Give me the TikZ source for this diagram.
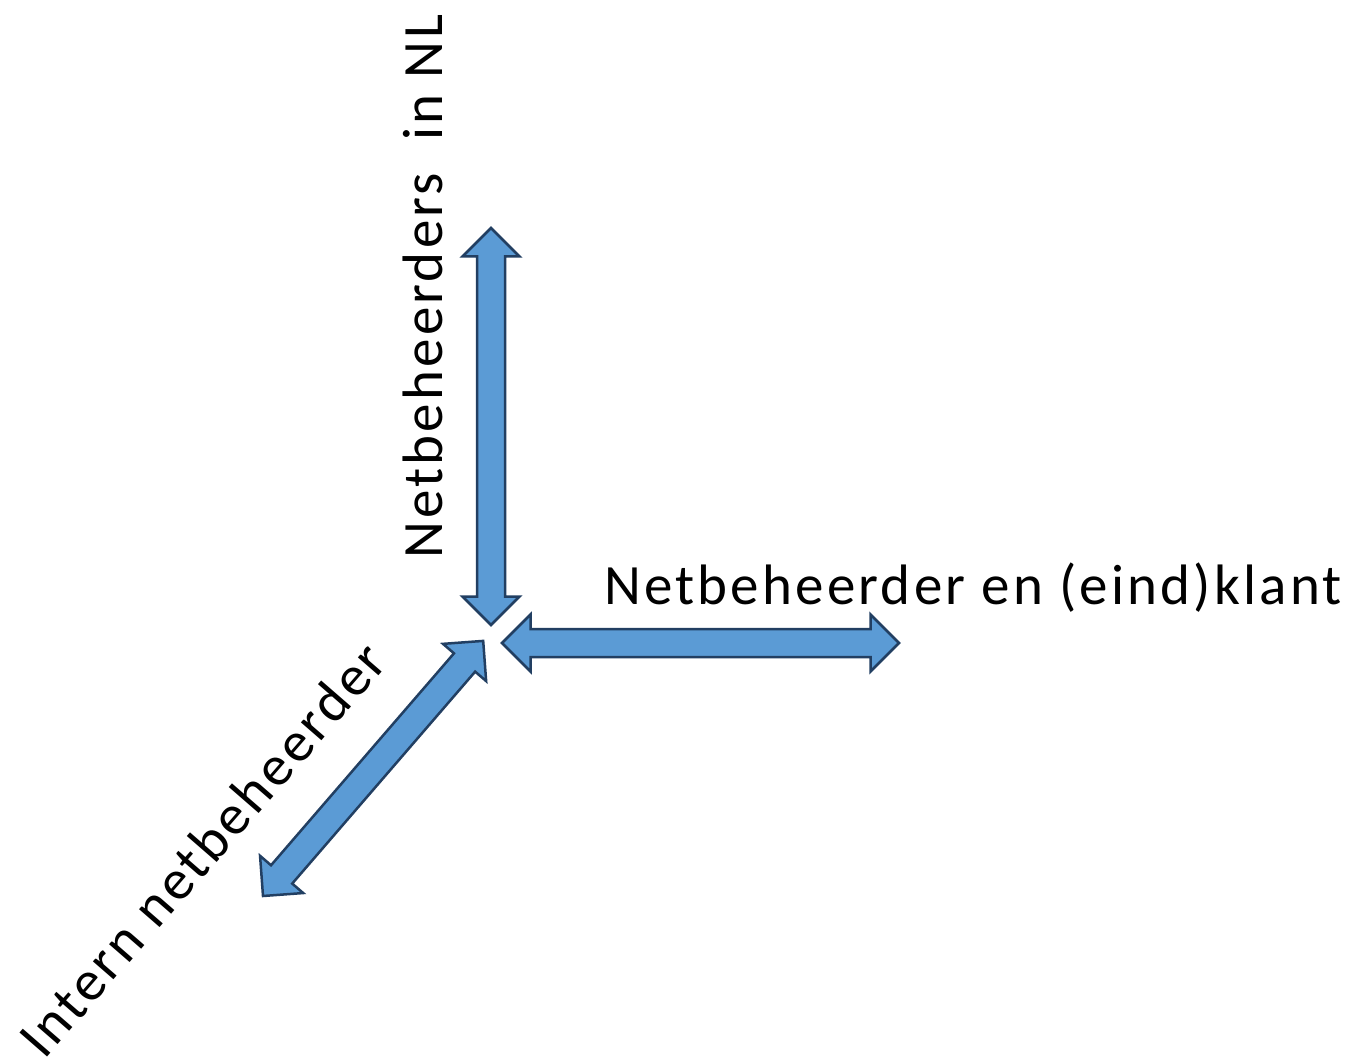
\documentclass[tikz,border=0pt]{standalone}
\usepackage{fontspec}
\setmainfont{Carlito}
\newfontfamily\lblfont[LetterSpace=5.6]{Carlito}
\definecolor{arrowfill}{HTML}{5B9BD5}
\definecolor{arrowline}{HTML}{223F62}
\begin{document}
\begin{tikzpicture}[x=1pt,y=-1pt,
  blockarrow/.style={fill=arrowfill,draw=arrowline,line width=2.5pt,line join=miter},
  lbl/.style={inner sep=0pt,font=\lblfont\fontsize{57}{68}\selectfont}]
\useasboundingbox (0,0) rectangle (1355,1064);
\newcommand{\dblarrow}[1]{%
  (0,0) -- (28.5,28.5) -- (28.5,14) -- (#1-28.5,14) -- (#1-28.5,28.5) -- (#1,0)
  -- (#1-28.5,-28.5) -- (#1-28.5,-14) -- (28.5,-14) -- (28.5,-28.5) -- cycle}
% vertical arrow
\begin{scope}[shift={(491,625)},rotate=90]
  \draw[blockarrow] \dblarrow{397};
\end{scope}
% horizontal arrow
\begin{scope}[shift={(502,643)}]
  \draw[blockarrow] \dblarrow{397};
\end{scope}
% diagonal arrow
\begin{scope}[shift={(263,896)},rotate=49.2]
  \draw[blockarrow] \dblarrow{337};
\end{scope}
\node[lbl,anchor=base west] (klant) at (604,604) {Netbeheerder en (eind)klant};
\node[lbl,anchor=base west,rotate=90] (nl) at (442,559) {Netbeheerders\ \ in NL};
\node[lbl,anchor=base west,rotate=49] (intern) at (44,1061) {Intern netbeheerder};
\end{tikzpicture}
\end{document}
